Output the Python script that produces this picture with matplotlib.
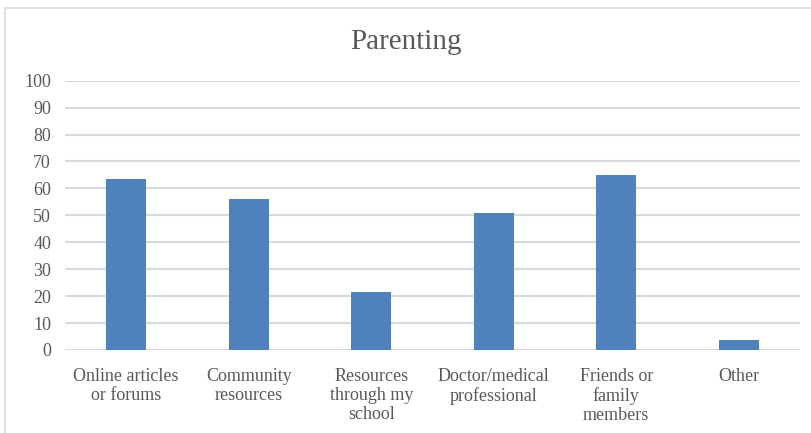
import matplotlib
matplotlib.use("Agg")
import matplotlib.pyplot as plt
from matplotlib.patches import Rectangle

categories = ["Online articles\nor forums", "Community\nresources", "Resources\nthrough my\nschool",
              "Doctor/medical\nprofessional", "Friends or\nfamily\nmembers", "Other"]
values = [63.4, 56.0, 21.4, 50.8, 65.0, 3.7]
yticks = [0, 10, 20, 30, 40, 50, 60, 70, 80, 90, 100]
title = "Parenting"

plt.rcParams['font.family'] = ['Liberation Serif', 'DejaVu Serif']
fig = plt.figure(figsize=(8.12, 4.33), dpi=100)
fig.patches.append(Rectangle((5/812, -0.05), 1.2, 1 - 8/433 + 0.05, transform=fig.transFigure,
                             fill=False, edgecolor='#d9d9d9', linewidth=1.2))
ax = fig.add_axes([65/812, 1 - 350/433, 735/812, (350 - 80.7)/433])
x = list(range(len(categories)))
ax.bar(x, values, width=0.327, color='#4f81bd', zorder=3)
ax.set_xlim(-0.5, len(categories) - 0.5)
ax.set_ylim(0, 100)
ax.set_yticks(yticks)
ax.set_yticklabels([str(v) for v in yticks])
ax.set_xticks(x)
ax.set_xticklabels(categories, fontsize=13, color='#595959', linespacing=1.15)
ax.tick_params(axis='y', labelsize=13, colors='#595959', length=0, pad=10)
ax.tick_params(axis='x', length=0, pad=13)
ax.grid(axis='y', color='#d9d9d9', linewidth=1.5, zorder=0)
for s in ax.spines.values():
    s.set_visible(False)
fig.text(0.5, 1 - 42/433, title, ha='center', va='center', fontsize=21, color='#595959')
fig.savefig("out.png", dpi=100)
